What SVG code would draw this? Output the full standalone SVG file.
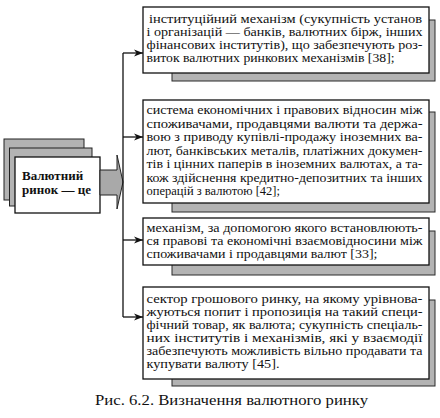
<svg xmlns="http://www.w3.org/2000/svg" width="440" height="418" viewBox="0 0 440 418">
<style>
.bg{fill:#ffffff}
.shadow{fill:#b3b3b3;stroke:#2a2a2a;stroke-width:1}
.box{fill:#ffffff;stroke:#111;stroke-width:1.3}
.stack{fill:#b3b3b3;stroke:#222;stroke-width:1}
.t{font-family:"Liberation Serif","Times New Roman",serif;font-size:12.5px;fill:#111}
.b{font-family:"Liberation Serif","Times New Roman",serif;font-size:13px;font-weight:bold;fill:#111}
.cap{font-family:"Liberation Serif","Times New Roman",serif;font-size:14px;fill:#111}
.conn{stroke:#111;stroke-width:1.3;fill:none}
</style>
<defs>
<marker id="ah" markerWidth="10" markerHeight="8" refX="9" refY="4" orient="auto" markerUnits="userSpaceOnUse">
<path d="M0,0.5 L9,4 L0,7.5 L2.5,4 Z" fill="#111"/>
</marker>
</defs>
<rect class="bg" x="0" y="0" width="440" height="418"/>

<g id="source">
<rect class="stack" x="4" y="139" width="80" height="61"/>
<rect class="stack" x="9.5" y="148" width="82.5" height="58"/>
<rect class="box" x="15" y="157" width="85" height="56"/>
<text class="b" x="22" y="180">Валютний</text>
<text class="b" x="22" y="194">ринок — це</text>
<path d="M100,170 L117,170 L117,155 L123,182 L117,209 L117,195 L100,195 Z" fill="#a9a9a9" stroke="#222" stroke-width="1"/>
</g>

<g id="connectors">
<line class="conn" x1="123" y1="53" x2="123" y2="317"/>
<line class="conn" x1="123" y1="53" x2="143" y2="53" marker-end="url(#ah)"/>
<line class="conn" x1="123" y1="137" x2="143" y2="137" marker-end="url(#ah)"/>
<line class="conn" x1="123" y1="240" x2="143" y2="240" marker-end="url(#ah)"/>
<line class="conn" x1="123" y1="317" x2="143" y2="317" marker-end="url(#ah)"/>
</g>

<g id="def1">
<rect class="shadow" x="172" y="20" width="263" height="61"/>
<rect class="box" x="143" y="7" width="286" height="66"/>
<text class="t" x="149" y="23" textLength="273" lengthAdjust="spacingAndGlyphs">інституційний механізм (сукупність установ</text>
<text class="t" x="146.5" y="36" textLength="276" lengthAdjust="spacingAndGlyphs">і організацій — банків, валютних бірж, інших</text>
<text class="t" x="146.5" y="49" textLength="276" lengthAdjust="spacingAndGlyphs">фінансових інститутів), що забезпечують роз-</text>
<text class="t" x="146.5" y="62" textLength="248" lengthAdjust="spacingAndGlyphs">виток валютних ринкових механізмів [38];</text>
</g>

<g id="def2">
<rect class="shadow" x="172" y="112" width="263" height="100"/>
<rect class="box" x="143" y="100" width="286" height="103"/>
<text class="t" x="146.5" y="114" textLength="276" lengthAdjust="spacingAndGlyphs">система економічних і правових відносин між</text>
<text class="t" x="146.5" y="127.5" textLength="276" lengthAdjust="spacingAndGlyphs">споживачами, продавцями валюти та держа-</text>
<text class="t" x="146.5" y="141" textLength="276" lengthAdjust="spacingAndGlyphs">вою з приводу купівлі-продажу іноземних ва-</text>
<text class="t" x="146.5" y="154.5" textLength="276" lengthAdjust="spacingAndGlyphs">лют, банківських металів, платіжних докумен-</text>
<text class="t" x="146.5" y="168" textLength="276" lengthAdjust="spacingAndGlyphs">тів і цінних паперів в іноземних валютах, а та-</text>
<text class="t" x="146.5" y="181.5" textLength="276" lengthAdjust="spacingAndGlyphs">кож здійснення кредитно-депозитних та інших</text>
<text class="t" x="146.5" y="195">операцій з валютою [42];</text>
</g>

<g id="def3">
<rect class="shadow" x="172" y="231" width="263" height="44"/>
<rect class="box" x="143" y="218" width="286" height="47"/>
<text class="t" x="146.5" y="232" textLength="276" lengthAdjust="spacingAndGlyphs">механізм, за допомогою якого встановлюють-</text>
<text class="t" x="146.5" y="245" textLength="276" lengthAdjust="spacingAndGlyphs">ся правові та економічні взаємовідносини між</text>
<text class="t" x="146.5" y="258" textLength="231" lengthAdjust="spacingAndGlyphs">споживачами і продавцями валют [33];</text>
</g>

<g id="def4">
<rect class="shadow" x="172" y="300" width="263" height="86"/>
<rect class="box" x="143" y="287" width="286" height="92"/>
<text class="t" x="146.5" y="303" textLength="276" lengthAdjust="spacingAndGlyphs">сектор грошового ринку, на якому урівнова-</text>
<text class="t" x="146.5" y="316" textLength="276" lengthAdjust="spacingAndGlyphs">жуються попит і пропозиція на такий специ-</text>
<text class="t" x="146.5" y="329" textLength="276" lengthAdjust="spacingAndGlyphs">фічний товар, як валюта; сукупність спеціаль-</text>
<text class="t" x="146.5" y="342" textLength="276" lengthAdjust="spacingAndGlyphs">них інститутів і механізмів, які у взаємодії</text>
<text class="t" x="146.5" y="355" textLength="276" lengthAdjust="spacingAndGlyphs">забезпечують можливість вільно продавати та</text>
<text class="t" x="146.5" y="368" textLength="133" lengthAdjust="spacingAndGlyphs">купувати валюту  [45].</text>
</g>

<text class="cap" x="95" y="405" textLength="273" lengthAdjust="spacingAndGlyphs">Рис. 6.2. Визначення валютного ринку</text>
</svg>
